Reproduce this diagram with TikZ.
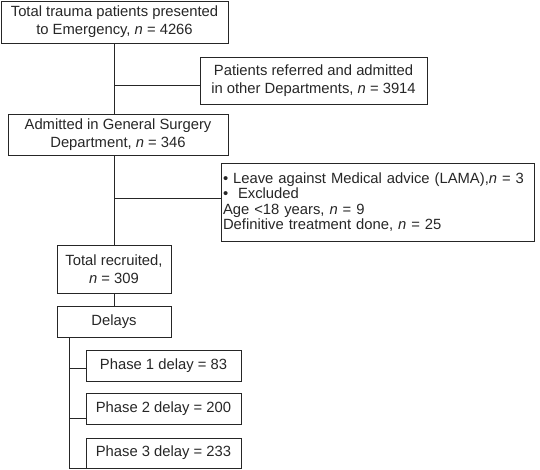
\documentclass[tikz,border=0pt]{standalone}
\usepackage{fontspec}
\setmainfont{Liberation Sans}
\usetikzlibrary{calc}
\definecolor{ink}{HTML}{262626}
\begin{document}
\begin{tikzpicture}[x=1pt,y=-1pt,
  box/.style={draw=ink, line width=0.9pt, text=ink, font=\fontsize{14.8}{18}\selectfont, align=center, inner sep=0pt},
  lbox/.style={draw=ink, line width=0.9pt, text=ink, font=\fontsize{14.8}{15.3}\selectfont, align=left, inner xsep=2pt, inner ysep=0pt},
  conn/.style={draw=ink, line width=0.9pt},
  thin/.style={draw=ink, line width=0.6pt}]
\useasboundingbox (0,0) rectangle (540,469);
\node[box, minimum width=227pt, minimum height=42pt] (b1) at (114.5,22) {Total trauma patients presented\\to Emergency, \textit{n} = 4266};
\node[box, minimum width=227pt, minimum height=47pt] (ref) at (313.5,80.5) {Patients referred and admitted\\in other Departments, \textit{n} = 3914};
\node[box, minimum width=220pt, minimum height=41pt] (b2) at (118,134.5) {Admitted in General Surgery\\Department, \textit{n} = 346};
\node[lbox, text width=309pt, minimum height=78pt] (lama) at (377.5,202) {• Leave against Medical advice (LAMA),\textit{n} = 3\\•\ \ Excluded\\Age <18 years, \textit{n} = 9\\Definitive treatment done, \textit{n} = 25};
\node[box, minimum width=114pt, minimum height=48pt] (rec) at (114,269) {Total recruited,\\\textit{n} = 309};
\node[box, minimum width=114pt, minimum height=31pt] (del) at (114,321.5) {Delays};
\node[box, minimum width=155pt, minimum height=31pt] (p1) at (163.5,365.5) {Phase 1 delay = 83};
\node[box, minimum width=155pt, minimum height=31pt] (p2) at (163.5,408.5) {Phase 2 delay = 200};
\node[box, minimum width=155pt, minimum height=30pt] (p3) at (163.5,453) {Phase 3 delay = 233};
\coordinate (v) at (69,0);
\coordinate (rj) at ([yshift=-4.5pt]ref.west);
\coordinate (lj) at ([yshift=4pt]lama.west);
\coordinate (p1j) at ([yshift=-2.5pt]p1.west);
\coordinate (p2j) at ([yshift=6pt]p2.south west);
% connectors
\draw[conn] (b1.south) -- (b1.south |- b2.north);
\draw[conn] (b1.south |- rj) -- (rj);
\draw[conn] (rec.north |- b2.south) -- (rec.north);
\draw[conn] (rec.north |- lj) -- (lj);
\draw[conn] (rec.south) -- (del.north);
\draw[conn] (v |- del.south) -- (v |- p3.south) -- (p3.south west);
\draw[thin] (v |- p1j) -- (p1j);
\draw[conn] (v |- p2j) -- (p2j);
\end{tikzpicture}
\end{document}
